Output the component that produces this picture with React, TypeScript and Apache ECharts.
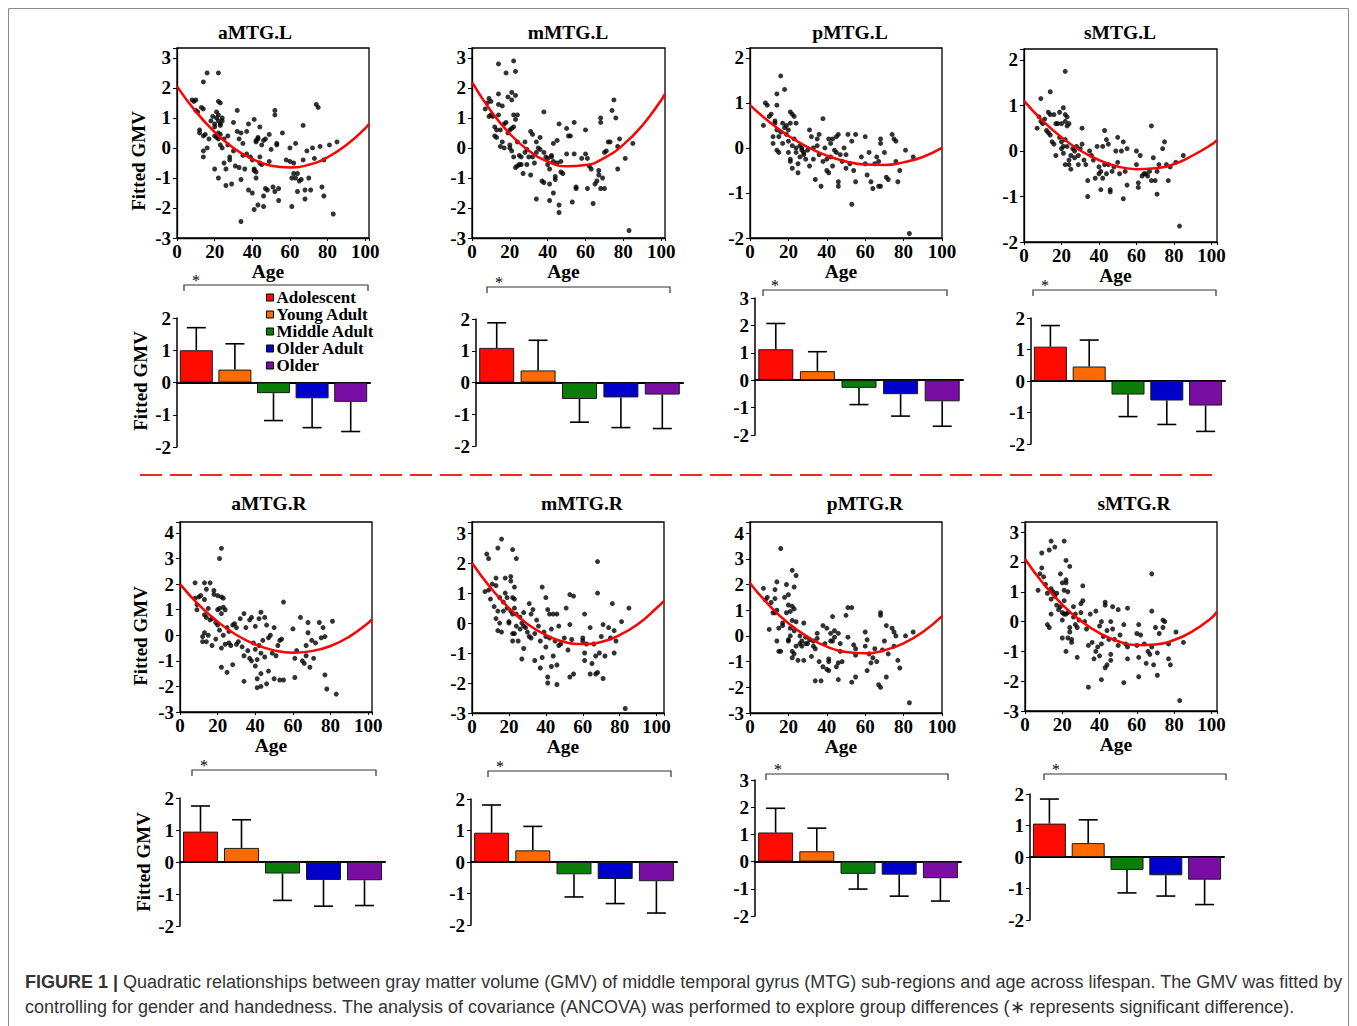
import React, { useEffect, useRef } from 'react';
import * as echarts from 'echarts';

const W = 1357;
const H = 1026;
const SERIF = "'Liberation Serif','Times New Roman',serif";
const SANS = "'Liberation Sans',Arial,Helvetica,sans-serif";

// ---------- categories / labels ----------
const regionTitles = ['aMTG.L', 'mMTG.L', 'pMTG.L', 'sMTG.L', 'aMTG.R', 'mMTG.R', 'pMTG.R', 'sMTG.R'];
const groupNames = ['Adolescent', 'Young Adult', 'Middle Adult', 'Older Adult', 'Older'];
const groupColors = ['#ff0a00', '#ff6a00', '#0b7d0b', '#0000cc', '#7a0da3'];
const ageTickStep = 20;
const yAxisTitle = 'Fitted GMV';
const xAxisTitle = 'Age';

// ---------- scatter points [age, fitted GMV] ----------
const aMTG_L_points = [[8,1.6],[9,1.55],[10,1.6],[14,2.2],[16,2.5],[22,2.5],[22,1.55],[23,1.5],[10,1.25],[11,1.2],[13,1.35],[14,1.3],[12,0.6],[12,0.5],[14,0.4],[15,0.45],[14,-0.1],[14,-0.3],[16,0],[17,0.3],[18,0.9],[19,1.05],[20,0.8],[20,0.7],[21,1.2],[21,1.0],[22,1.1],[22,0.9],[23,0.8],[23,0.75],[24,0.9],[24,1.0],[20,0.4],[21,0.35],[22,0.3],[22,0.5],[23,0.45],[20,-0.7],[22,-1.0],[23,0.1],[24,0.0],[25,0.3],[25,-0.5],[26,-1.25],[26,-0.7],[27,0.4],[27,0.1],[28,-0.4],[28,-0.3],[29,-1.2],[30,0.85],[30,-0.1],[31,-0.6],[32,1.25],[32,0.55],[33,0.3],[33,-0.65],[34,0.5],[34,-1.05],[34,-2.45],[35,0.15],[35,-0.25],[36,-0.7],[37,0.55],[37,-0.2],[38,0.8],[38,-1.4],[39,-0.3],[40,-0.4],[40,-1.5],[41,0.95],[41,-0.7],[41,-0.75],[41,-2.05],[42,0.25],[42,0.2],[42,-0.8],[42,-1.0],[43,0.35],[43,0.3],[43,-1.9],[44,0.7],[44,-0.5],[44,-0.3],[45,0.1],[45,-0.55],[46,0.25],[46,-1.6],[46,-1.95],[47,0.3],[47,-1.35],[48,-1.4],[49,0.45],[49,-0.45],[50,-0.05],[51,-1.3],[52,1.1],[52,1.25],[52,-1.45],[53,0.15],[53,0.1],[54,-1.35],[54,-1.75],[56,0.5],[58,-0.4],[60,0.0],[60,-0.45],[61,-1.0],[61,-1.95],[62,-0.5],[62,-0.85],[63,0.15],[63,-1.0],[64,-0.85],[64,-1.45],[65,-1.1],[66,-1.05],[67,0.75],[67,-0.4],[68,-1.4],[68,-1.7],[69,-0.1],[70,-1.0],[71,-1.4],[72,0.0],[73,-0.35],[74,1.45],[75,1.35],[76,0.05],[77,-1.3],[78,-0.4],[78,-1.6],[81,0.1],[83,-2.2],[85,0.2]];
const mMTG_L_points = [[7,1.3],[8,1.5],[9,1.65],[9,1.05],[10,1.55],[10,1.1],[11,1.05],[12,0.7],[12,0.4],[13,0.6],[13,0.35],[14,2.8],[14,1.8],[14,1.45],[14,1.1],[15,0.6],[15,0.05],[16,0.2],[16,1.4],[17,0.8],[17,0.0],[18,0.85],[18,2.5],[19,0.5],[19,1.7],[20,0.6],[20,0.1],[20,0.0],[21,1.85],[21,1.6],[21,0.65],[21,-0.1],[22,2.9],[22,1.1],[22,0.7],[22,-0.3],[23,2.55],[23,1.75],[23,0.95],[23,-0.65],[24,1.1],[24,0.2],[24,-0.6],[25,-0.25],[25,-0.55],[26,-0.3],[26,-0.55],[27,-0.85],[28,0.2],[28,-0.15],[29,-0.05],[29,-0.55],[30,-0.3],[31,0.55],[31,-0.9],[32,0.45],[32,-0.3],[33,-0.5],[34,0.2],[34,-0.15],[34,-1.7],[35,0.0],[36,0.35],[36,-0.05],[37,-1.1],[38,1.2],[38,-1.15],[38,-0.15],[39,-0.3],[40,-0.35],[40,-0.55],[41,-0.7],[41,-1.2],[41,-1.75],[42,-0.3],[42,-0.25],[43,-0.45],[43,0.15],[43,-1.5],[44,-1.05],[44,-0.95],[45,0.25],[45,-0.5],[46,0.8],[46,-1.9],[46,-2.15],[47,-0.45],[47,-0.8],[48,-0.85],[50,0.65],[50,-0.2],[51,0.4],[52,0.4],[53,-1.8],[54,-0.2],[54,0.85],[55,-1.3],[55,-1.35],[58,-0.35],[60,0.6],[60,-0.2],[61,-0.35],[61,-1.35],[62,-0.6],[63,-0.7],[64,-1.85],[65,-1.2],[66,-1.1],[67,-0.9],[67,-0.75],[68,1.0],[68,0.85],[68,-1.35],[69,-1.0],[70,-0.15],[70,-1.35],[71,-0.1],[72,0.2],[73,0.2],[74,1.25],[75,1.6],[76,1.0],[77,-0.7],[77,0.05],[78,0.3],[81,-0.35],[83,-2.75],[85,0.15]];
const pMTG_L_points = [[7,0.5],[8,1.0],[9,0.95],[10,0.7],[11,0.75],[12,0.25],[12,0.1],[13,0.55],[13,0.6],[14,0.95],[14,1.2],[14,0.4],[14,-0.05],[15,0.25],[15,-0.1],[16,1.6],[16,0.35],[17,0.55],[17,0.1],[18,1.3],[18,0.45],[19,0.5],[19,0.3],[20,0.4],[20,0.15],[20,-0.1],[21,0.8],[21,0.55],[21,-0.25],[21,-0.3],[22,0.75],[22,0.05],[22,-0.45],[23,0.7],[23,0.2],[24,0.55],[24,0.0],[24,-0.1],[25,-0.35],[25,-0.55],[26,0.05],[26,-0.2],[27,-0.05],[27,0.0],[28,-0.15],[28,-0.1],[29,-0.25],[30,-0.05],[31,0.4],[31,-0.4],[32,0.25],[33,-0.25],[33,0.0],[34,-0.7],[35,0.2],[35,0.05],[36,0.3],[36,-0.15],[37,-0.85],[38,0.65],[38,-0.3],[39,0.0],[40,-0.25],[40,-0.5],[41,0.2],[41,-0.55],[42,0.1],[42,-0.2],[43,0.2],[43,-0.4],[44,-0.05],[45,0.25],[45,-0.1],[46,-0.75],[46,-0.85],[46,0.3],[47,-0.15],[48,-0.3],[49,0.0],[50,-0.15],[50,-0.45],[51,0.3],[52,-0.35],[53,-1.25],[53,0.15],[54,-0.5],[55,0.3],[55,-0.75],[58,-0.2],[60,0.25],[60,-0.35],[61,-0.6],[62,-0.1],[63,-0.75],[64,-0.9],[65,-0.35],[66,-0.2],[67,-0.85],[67,-0.3],[68,0.2],[68,0.1],[68,-0.85],[70,-0.1],[71,-0.65],[72,-0.7],[74,0.3],[75,0.2],[76,0.15],[76,-0.3],[77,-0.75],[78,-0.5],[81,-0.05],[83,-1.9],[85,-0.2]];
const sMTG_L_points = [[7,0.5],[8,0.75],[9,1.15],[9,0.65],[10,0.6],[11,0.7],[12,0.45],[13,0.85],[13,0.4],[14,1.3],[14,0.8],[14,0.35],[15,0.2],[16,0.8],[16,0.15],[17,0.6],[17,-0.1],[18,0.6],[19,0.85],[19,0.3],[20,0.6],[20,0.2],[20,0.05],[21,0.95],[21,0.1],[21,-0.05],[22,1.75],[22,0.8],[22,0.65],[22,0.25],[22,-0.3],[23,0.75],[23,0.55],[23,0.1],[24,0.6],[24,-0.2],[24,-0.3],[25,-0.1],[25,-0.4],[26,0.05],[27,0.0],[27,-0.15],[28,0.1],[29,-0.1],[29,-0.3],[30,0.05],[31,0.5],[31,0.15],[32,-0.2],[33,-0.3],[34,-0.65],[34,-1.0],[35,0.0],[36,-0.1],[37,-0.2],[38,-0.6],[39,0.1],[40,-0.35],[40,-0.5],[41,-0.45],[41,-0.85],[42,0.1],[42,-0.6],[43,0.45],[43,-0.3],[44,0.25],[44,-0.5],[45,0.15],[45,-0.3],[46,-0.85],[46,-0.9],[47,-0.45],[48,-0.35],[49,0.0],[50,0.3],[50,-0.25],[51,-0.5],[52,0.0],[53,0.2],[53,-1.05],[54,-0.45],[55,0.05],[55,-0.75],[60,0.0],[60,-0.3],[61,-0.7],[61,-0.8],[62,-0.1],[63,-0.55],[64,-0.5],[65,-0.5],[66,-0.55],[67,-0.45],[68,0.55],[68,-0.65],[69,-0.15],[70,-0.65],[71,-0.45],[71,-0.95],[72,-0.3],[74,0.05],[75,0.2],[76,-0.3],[77,-0.65],[78,-0.35],[81,-0.25],[83,-1.65],[85,-0.1]];
const aMTG_R_points = [[8,2.05],[8,1.45],[9,1.2],[9,1.0],[10,1.5],[11,1.55],[12,-0.05],[12,-0.25],[13,2.05],[13,1.4],[13,0.8],[13,0.1],[14,1.8],[14,0.7],[14,-0.25],[15,0.0],[15,1.05],[16,2.05],[16,0.6],[17,-0.4],[17,0.65],[18,1.75],[18,1.6],[19,0.5],[19,-0.15],[20,1.55],[20,1.0],[20,0.4],[21,3.0],[21,0.2],[21,1.05],[22,3.4],[22,1.5],[22,0.85],[22,-0.5],[22,-1.25],[23,1.45],[23,1.1],[23,0.0],[24,1.0],[24,-0.35],[25,-1.45],[25,0.3],[26,0.15],[26,-0.3],[27,-0.4],[28,0.4],[28,-1.15],[29,0.45],[30,0.3],[30,-0.35],[31,-0.25],[32,0.65],[33,-0.45],[34,0.85],[34,-0.8],[34,-1.8],[35,0.3],[36,-0.6],[37,0.6],[37,-0.9],[38,0.7],[38,-1.0],[39,-0.3],[40,0.35],[40,-0.55],[40,-1.2],[41,-0.95],[41,-1.7],[41,-2.05],[42,0.65],[42,-0.4],[43,0.9],[43,-0.7],[43,-1.5],[43,-2.0],[44,-0.2],[45,0.7],[45,-0.85],[46,0.4],[46,-1.9],[47,-0.1],[47,-1.4],[48,0.0],[49,-0.7],[50,0.3],[50,-1.7],[51,-0.8],[52,-0.4],[53,-0.2],[53,-1.75],[54,-0.15],[55,1.3],[55,-1.75],[60,0.25],[61,-0.9],[61,-1.65],[62,-0.6],[64,0.7],[65,-1.0],[66,-1.1],[67,-0.4],[67,-0.8],[68,0.5],[68,0.1],[69,-1.25],[70,-0.2],[71,-0.9],[72,-0.3],[74,0.5],[75,-0.1],[76,0.3],[77,-0.05],[77,-1.55],[78,-2.1],[81,0.55],[83,-2.3]];
const mMTG_R_points = [[7,1.05],[8,2.3],[9,2.15],[9,1.1],[10,0.8],[11,1.3],[12,0.55],[13,1.5],[13,0.15],[13,1.25],[14,2.5],[14,0.4],[14,-0.25],[15,0.85],[15,0.0],[16,2.8],[16,-0.3],[17,0.4],[17,0.7],[18,1.0],[18,1.5],[19,0.5],[19,0.85],[20,0.05],[20,0.0],[21,1.55],[21,1.4],[21,0.4],[22,2.45],[22,0.85],[22,0.3],[22,-0.35],[22,-0.6],[23,1.2],[23,0.8],[23,0.5],[23,-0.35],[24,2.15],[24,0.3],[24,-0.1],[25,-0.6],[26,0.2],[26,-0.2],[27,0.0],[27,-1.2],[28,0.35],[28,-0.1],[28,-0.85],[29,-0.15],[30,-0.3],[31,0.65],[31,-0.45],[32,0.3],[32,-0.5],[33,0.45],[34,-0.35],[34,-1.25],[35,0.1],[36,-0.1],[37,-0.6],[37,-1.5],[38,1.2],[38,-1.15],[39,-0.3],[40,0.85],[40,-0.45],[40,-0.8],[41,0.45],[41,-1.8],[41,-2.0],[42,0.3],[42,-0.5],[43,-0.2],[43,-1.45],[44,0.3],[44,-1.1],[45,-0.6],[46,0.3],[46,-1.4],[46,-2.05],[47,-0.1],[47,-0.75],[48,-0.7],[50,-0.5],[51,0.5],[52,-0.9],[53,0.95],[53,-0.05],[53,-1.8],[54,-0.55],[55,0.9],[55,-1.7],[60,-0.5],[60,-0.6],[61,0.3],[61,-1.0],[61,-1.25],[62,-0.7],[64,-0.15],[64,-1.7],[65,-1.35],[66,-0.7],[67,-1.1],[67,-1.7],[68,2.05],[68,1.0],[68,-1.65],[69,-1.0],[70,-0.45],[71,-1.85],[71,-0.05],[72,-1.1],[74,-0.15],[75,-0.5],[76,0.65],[77,-0.25],[77,-1.0],[78,-0.6],[81,0.05],[83,-2.85],[85,0.5]];
const pMTG_R_points = [[7,1.85],[8,1.4],[9,1.5],[10,0.25],[11,1.3],[12,0.9],[13,1.8],[13,1.45],[13,0.9],[14,2.1],[14,1.0],[14,-0.2],[15,0.3],[15,-0.6],[16,3.4],[16,-0.6],[17,0.5],[17,0.4],[18,1.5],[19,2.0],[19,0.9],[20,1.6],[20,1.2],[20,-0.15],[20,-0.2],[21,0.95],[21,0.3],[21,0.0],[22,2.55],[22,1.15],[22,0.6],[22,-0.6],[22,-0.85],[23,1.9],[23,1.05],[23,0.2],[23,-0.7],[24,2.35],[24,0.55],[24,-0.4],[25,-0.95],[26,0.0],[26,-0.3],[27,-0.2],[27,-0.4],[28,0.5],[28,-0.95],[29,-0.05],[29,-0.3],[30,-0.3],[31,-0.15],[32,-0.8],[33,-0.4],[33,-0.2],[34,-0.5],[34,-1.75],[35,0.1],[35,-0.1],[36,-1.0],[37,-1.75],[38,0.4],[38,-1.2],[39,-0.3],[40,0.3],[40,-1.3],[41,-0.9],[41,-1.0],[41,-1.35],[42,0.1],[42,-0.2],[43,0.75],[43,-0.2],[44,0.2],[44,-0.05],[45,-1.2],[46,0.1],[46,-1.7],[46,-1.05],[47,-0.6],[47,-0.3],[48,-1.0],[50,0.8],[51,1.1],[51,-0.05],[53,1.1],[53,-1.8],[54,-0.35],[55,-0.5],[55,-1.6],[55,-0.75],[60,0.15],[60,-0.4],[61,-0.15],[61,-1.35],[62,-0.7],[63,-1.05],[64,-0.85],[65,-0.5],[66,-1.0],[67,-1.9],[68,0.9],[68,0.8],[68,-2.0],[69,-0.55],[70,-0.2],[71,0.4],[71,-1.6],[72,-0.7],[74,0.3],[75,0.15],[75,-0.4],[76,0.0],[77,-0.95],[78,-1.25],[81,0.0],[83,-2.6],[85,0.15]];
const sMTG_R_points = [[7,1.05],[8,1.6],[9,2.3],[9,1.8],[10,1.5],[11,1.25],[12,0.95],[12,-0.1],[13,2.4],[13,-0.2],[14,2.7],[14,1.1],[14,0.75],[14,0.25],[15,1.0],[16,2.5],[16,0.85],[17,0.55],[17,0.95],[18,0.4],[19,1.6],[19,0.5],[20,1.3],[20,0.3],[20,0.05],[20,-0.55],[21,2.7],[21,1.05],[21,0.7],[21,0.25],[22,2.05],[22,1.4],[22,1.3],[22,0.25],[22,-1.0],[23,1.0],[23,0.3],[23,-0.55],[24,1.85],[24,-0.2],[24,-0.35],[25,-0.6],[25,-0.7],[26,0.5],[26,0.15],[27,0.25],[27,-0.1],[28,-0.2],[28,-1.2],[29,0.05],[30,0.6],[30,0.3],[31,0.7],[31,1.2],[32,0.0],[33,-0.25],[34,-0.8],[34,-2.2],[35,0.25],[36,-0.7],[37,-1.25],[38,0.35],[38,-1.0],[39,-0.85],[40,-0.15],[40,-1.15],[41,0.0],[41,-0.75],[41,-1.95],[42,-0.5],[43,0.65],[43,0.55],[43,-1.55],[44,-0.3],[44,-1.45],[45,-0.6],[46,0.0],[46,-1.3],[46,-1.1],[47,0.5],[47,-0.25],[48,-0.6],[50,0.4],[50,-0.8],[51,-0.45],[53,-0.1],[53,-2.05],[54,-0.75],[55,0.45],[55,-1.25],[55,-0.85],[60,-0.4],[60,-0.8],[61,-0.1],[61,-1.2],[61,-1.85],[62,-0.45],[64,-0.75],[65,-1.4],[66,-1.0],[67,-1.1],[68,1.6],[68,0.35],[68,-0.85],[69,-1.45],[70,-0.2],[71,-1.8],[71,-1.05],[72,-0.4],[74,0.05],[74,-0.2],[75,0.0],[77,-0.75],[77,-1.25],[78,-1.45],[81,-0.35],[83,-2.65],[85,-0.7]];

// ---------- fitted quadratic curves [age, GMV] ----------
const aMTG_L_curve = [[0,2.05],[10,1.21],[20,0.53],[30,0.0],[40,-0.37],[50,-0.59],[60,-0.65],[70,-0.56],[80,-0.31],[90,0.1],[100,0.65],[102,0.8]];
const mMTG_L_curve = [[0,2.19],[10,1.23],[20,0.47],[30,-0.09],[40,-0.45],[50,-0.61],[60,-0.57],[70,-0.33],[80,0.11],[90,0.75],[100,1.59],[102,1.8]];
const pMTG_L_curve = [[0,0.95],[10,0.58],[20,0.27],[30,0.02],[40,-0.17],[50,-0.3],[60,-0.37],[70,-0.38],[80,-0.32],[90,-0.2],[100,0.0]];
const sMTG_L_curve = [[0,1.1],[10,0.66],[20,0.3],[30,0.01],[40,-0.2],[50,-0.34],[60,-0.4],[70,-0.38],[80,-0.29],[90,-0.1],[100,0.14],[103,0.24]];
const aMTG_R_curve = [[0,2.0],[10,1.19],[20,0.53],[30,0.01],[40,-0.36],[50,-0.59],[60,-0.68],[70,-0.62],[80,-0.42],[90,-0.05],[100,0.48],[102,0.62]];
const mMTG_R_curve = [[0,2.0],[10,1.18],[20,0.5],[30,-0.03],[40,-0.4],[50,-0.63],[60,-0.7],[70,-0.63],[80,-0.4],[90,-0.03],[100,0.5],[104,0.74]];
const pMTG_R_curve = [[0,2.05],[10,1.19],[20,0.49],[30,-0.04],[40,-0.42],[50,-0.63],[60,-0.68],[70,-0.56],[80,-0.29],[90,0.15],[100,0.77]];
const sMTG_R_curve = [[0,2.1],[10,1.26],[20,0.57],[30,0.02],[40,-0.39],[50,-0.66],[60,-0.79],[70,-0.77],[80,-0.62],[90,-0.32],[100,0.12],[103,0.33]];

// ---------- group means and error-bar ends ----------
const aMTG_L_means = [1.0, 0.4, -0.33, -0.49, -0.6];
const aMTG_L_errEnds = [1.7, 1.2, -1.18, -1.4, -1.52];
const mMTG_L_means = [1.09, 0.38, -0.52, -0.47, -0.38];
const mMTG_L_errEnds = [1.88, 1.33, -1.25, -1.42, -1.45];
const pMTG_L_means = [1.13, 0.33, -0.28, -0.51, -0.77];
const pMTG_L_errEnds = [2.07, 1.04, -0.89, -1.31, -1.68];
const sMTG_L_means = [1.09, 0.46, -0.43, -0.62, -0.78];
const sMTG_L_errEnds = [1.76, 1.3, -1.13, -1.38, -1.6];
const aMTG_R_means = [0.95, 0.44, -0.36, -0.56, -0.57];
const aMTG_R_errEnds = [1.75, 1.32, -1.2, -1.38, -1.36];
const mMTG_R_means = [0.93, 0.37, -0.39, -0.54, -0.61];
const mMTG_R_errEnds = [1.81, 1.13, -1.11, -1.32, -1.62];
const pMTG_R_means = [1.07, 0.38, -0.45, -0.48, -0.61];
const pMTG_R_errEnds = [1.96, 1.23, -1.01, -1.27, -1.45];
const sMTG_R_means = [1.06, 0.44, -0.41, -0.58, -0.72];
const sMTG_R_errEnds = [1.84, 1.18, -1.14, -1.24, -1.51];

const scatterSets = [aMTG_L_points, mMTG_L_points, pMTG_L_points, sMTG_L_points, aMTG_R_points, mMTG_R_points, pMTG_R_points, sMTG_R_points];
const curveSets = [aMTG_L_curve, mMTG_L_curve, pMTG_L_curve, sMTG_L_curve, aMTG_R_curve, mMTG_R_curve, pMTG_R_curve, sMTG_R_curve];
const meanSets = [aMTG_L_means, mMTG_L_means, pMTG_L_means, sMTG_L_means, aMTG_R_means, mMTG_R_means, pMTG_R_means, sMTG_R_means];
const errSets = [aMTG_L_errEnds, mMTG_L_errEnds, pMTG_L_errEnds, sMTG_L_errEnds, aMTG_R_errEnds, mMTG_R_errEnds, pMTG_R_errEnds, sMTG_R_errEnds];

const captionLead = 'FIGURE 1 |';
const captionLine1 = 'Quadratic relationships between gray matter volume (GMV) of middle temporal gyrus (MTG) sub-regions and age across lifespan. The GMV was fitted by';
const captionLine2 = 'controlling for gender and handedness. The analysis of covariance (ANCOVA) was performed to explore group differences (\u2217 represents significant difference).';

// ---------- layout (pixels) ----------
const scatterLayout = [
  { left: 177, top: 48, width: 192, height: 190, yMin: -3, yMax: 3.33, xMax: 102, titleX: 255, titleY: 32 },
  { left: 472, top: 48, width: 193, height: 190, yMin: -3, yMax: 3.33, xMax: 102, titleX: 568, titleY: 32 },
  { left: 750, top: 48, width: 192, height: 190, yMin: -2, yMax: 2.22, xMax: 100, titleX: 850, titleY: 32 },
  { left: 1024, top: 49, width: 193, height: 193, yMin: -2, yMax: 2.24, xMax: 103, titleX: 1120, titleY: 32 },
  { left: 180, top: 522, width: 192, height: 190, yMin: -3, yMax: 4.43, xMax: 102, titleX: 269, titleY: 503 },
  { left: 472, top: 522, width: 192, height: 191, yMin: -3, yMax: 3.37, xMax: 104, titleX: 582, titleY: 503 },
  { left: 750, top: 522, width: 192, height: 191, yMin: -3, yMax: 4.43, xMax: 100, titleX: 865, titleY: 503 },
  { left: 1025, top: 522, width: 192, height: 189, yMin: -3, yMax: 3.34, xMax: 103, titleX: 1134, titleY: 503 },
];
const barLayout = [
  { left: 177, top: 318, width: 193, height: 129, yMin: -2, yMax: 2, barWidth: 33, br: [184, 368, 285] },
  { left: 476, top: 319, width: 207, height: 127, yMin: -2, yMax: 2, barWidth: 35, br: [487, 670, 287] },
  { left: 755, top: 298, width: 208, height: 137, yMin: -2, yMax: 3, barWidth: 35, br: [763, 947, 290] },
  { left: 1031, top: 318, width: 194, height: 126, yMin: -2, yMax: 2, barWidth: 33, br: [1033, 1216, 290] },
  { left: 180, top: 798, width: 205, height: 128, yMin: -2, yMax: 2, barWidth: 35, br: [192, 376, 770] },
  { left: 471, top: 799, width: 206, height: 126, yMin: -2, yMax: 2, barWidth: 35, br: [488, 671, 771] },
  { left: 755, top: 780, width: 206, height: 136, yMin: -2, yMax: 3, barWidth: 35, br: [766, 948, 774] },
  { left: 1030, top: 794, width: 194, height: 126, yMin: -2, yMax: 2, barWidth: 33, br: [1044, 1226, 774] },
];
const yTitlePos = [[138, 161], [140, 381], [140, 636], [143, 862]];

const tickFont = { fontFamily: SERIF, fontWeight: 'bold' as const, fontSize: 19, color: '#000' };

function errorRender(params: any, api: any) {
  const i = api.value(0);
  const m = api.value(1);
  const e = api.value(2);
  const p0 = api.coord([i, m]);
  const p1 = api.coord([i, e]);
  const half = 9.5;
  const st = { stroke: '#000', lineWidth: 1.6 };
  return {
    type: 'group',
    children: [
      { type: 'line', shape: { x1: p0[0], y1: p0[1], x2: p1[0], y2: p1[1] }, style: st },
      { type: 'line', shape: { x1: p1[0] - half, y1: p1[1], x2: p1[0] + half, y2: p1[1] }, style: st },
    ],
  };
}

function buildOption() {
  const grid: any[] = [];
  const xAxis: any[] = [];
  const yAxis: any[] = [];
  const series: any[] = [];
  const graphic: any[] = [];

  scatterLayout.forEach((L, i) => {
    grid.push({ left: L.left, top: L.top, width: L.width, height: L.height, show: true, borderColor: '#000', borderWidth: 1.3, backgroundColor: 'transparent' });
    xAxis.push({
      type: 'value', gridIndex: i, min: 0, max: L.xMax, interval: ageTickStep,
      axisLine: { onZero: false, lineStyle: { color: '#000', width: 1.3 } },
      axisTick: { show: true, length: 3, lineStyle: { color: '#000' } },
      splitLine: { show: false },
      axisLabel: { ...tickFont, margin: 4, formatter: (v: number) => (v % ageTickStep === 0 && v <= 100 ? String(v) : '') },
      name: xAxisTitle, nameLocation: 'middle', nameGap: 20,
      nameTextStyle: { ...tickFont, fontSize: 19.5, padding: [0, 10, 0, 0] },
    });
    yAxis.push({
      type: 'value', gridIndex: i, min: L.yMin, max: L.yMax, interval: 1,
      axisLine: { show: true, onZero: false, lineStyle: { color: '#000', width: 1.3 } },
      axisTick: { show: true, length: 4, lineStyle: { color: '#000' } },
      splitLine: { show: false },
      axisLabel: { ...tickFont, margin: 6, formatter: (v: number) => (Number.isInteger(v) ? String(v) : '') },
    });
    series.push({
      type: 'scatter', xAxisIndex: i, yAxisIndex: i, data: scatterSets[i], symbolSize: 5,
      itemStyle: { color: '#000' }, silent: true, z: 2,
    });
    series.push({
      type: 'line', xAxisIndex: i, yAxisIndex: i, data: curveSets[i], smooth: true, showSymbol: false,
      lineStyle: { color: '#ff0000', width: 2.5 }, silent: true, z: 3,
    });
    graphic.push({
      type: 'text', x: L.titleX, y: L.titleY,
      style: { text: regionTitles[i], fontFamily: SERIF, fontWeight: 'bold', fontSize: 19.5, fill: '#000', align: 'center', verticalAlign: 'middle' },
    });
  });

  barLayout.forEach((L, j) => {
    const gi = 8 + j;
    grid.push({ left: L.left, top: L.top, width: L.width, height: L.height });
    xAxis.push({
      type: 'category', gridIndex: gi, data: groupNames,
      axisLine: { onZero: true, lineStyle: { color: '#000', width: 2 } },
      axisTick: { show: false }, axisLabel: { show: false }, splitLine: { show: false },
    });
    yAxis.push({
      type: 'value', gridIndex: gi, min: L.yMin, max: L.yMax, interval: 1,
      axisLine: { show: true, lineStyle: { color: '#000', width: 1.5 } },
      axisTick: { show: true, length: 4, lineStyle: { color: '#000' } },
      splitLine: { show: false },
      axisLabel: { ...tickFont, margin: 6 },
    });
    groupNames.forEach((g, k) => {
      series.push({
        type: 'bar', name: g, xAxisIndex: gi, yAxisIndex: gi,
        data: groupNames.map((_, m) => (m === k ? meanSets[j][k] : '-')),
        barWidth: L.barWidth, barGap: '-100%',
        itemStyle: { color: groupColors[k], borderColor: '#1a1a1a', borderWidth: 1 },
        silent: true, z: 2,
      });
    });
    series.push({
      type: 'custom', xAxisIndex: gi, yAxisIndex: gi,
      data: meanSets[j].map((m, k) => [k, m, errSets[j][k]]),
      encode: { x: 0, y: [1, 2] }, renderItem: errorRender, silent: true, z: 5,
    });
    const [bx1, bx2, by] = L.br;
    graphic.push({
      type: 'polyline', shape: { points: [[bx1, by + 6], [bx1, by], [bx2, by], [bx2, by + 6]] },
      style: { stroke: '#333', lineWidth: 1.2, fill: 'none' },
    });
    graphic.push({
      type: 'text', x: bx1 + 12, y: by - 5,
      style: { text: '*', fontFamily: SERIF, fontSize: 16, fill: '#000', align: 'center', verticalAlign: 'middle' },
    });
  });

  yTitlePos.forEach(([x, y]) => {
    graphic.push({
      type: 'text', x, y, rotation: Math.PI / 2,
      style: { text: yAxisTitle, fontFamily: SERIF, fontWeight: 'bold', fontSize: 19, fill: '#000', align: 'center', verticalAlign: 'middle' },
    });
  });

  // frame, separator, caption
  graphic.push({
    type: 'rect', shape: { x: 8.5, y: 8.5, width: 1340, height: 1040 },
    style: { fill: 'none', stroke: '#8a8a8a', lineWidth: 1 }, z: -1,
  });
  graphic.push({
    type: 'line', shape: { x1: 140, y1: 475, x2: 1215, y2: 475 },
    style: { stroke: '#ee2a22', lineWidth: 2, lineDash: [22, 8] },
  });
  graphic.push({
    type: 'text', x: 25, y: 982,
    style: {
      text: '{b|' + captionLead + '} ' + captionLine1,
      fontFamily: SANS, fontSize: 18, fill: '#333', verticalAlign: 'middle',
      rich: { b: { fontFamily: SANS, fontWeight: 'bold', fontSize: 18, fill: '#333' } },
    },
  });
  graphic.push({
    type: 'text', x: 25, y: 1007,
    style: { text: captionLine2, fontFamily: SANS, fontSize: 18, fill: '#333', verticalAlign: 'middle' },
  });

  return {
    animation: false,
    backgroundColor: '#fff',
    grid, xAxis, yAxis, series, graphic,
    legend: {
      data: groupNames, orient: 'vertical', left: 266, top: 289, padding: 0,
      itemWidth: 7, itemHeight: 7, itemGap: 0, icon: 'rect', selectedMode: false,
      itemStyle: { borderColor: '#000', borderWidth: 1 },
      textStyle: { fontFamily: SERIF, fontWeight: 'bold', fontSize: 17, color: '#000', padding: [0, 0, 0, -2] },
    },
  };
}

export default function App() {
  const ref = useRef<HTMLDivElement>(null);
  useEffect(() => {
    if (!ref.current) return;
    const chart = echarts.init(ref.current, null, { renderer: 'svg' });
    chart.setOption(buildOption() as any);
    return () => chart.dispose();
  }, []);
  return <div ref={ref} style={{ position: 'fixed', left: 0, top: 0, width: W, height: H, background: '#fff' }} />;
}
